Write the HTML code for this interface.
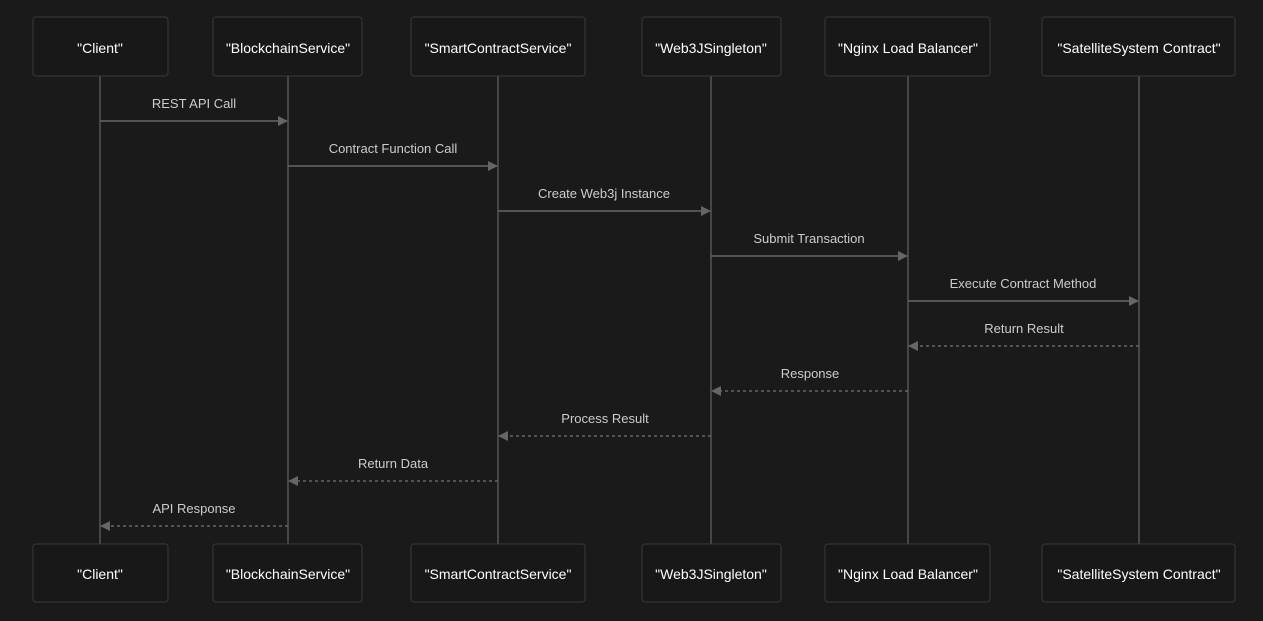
<!DOCTYPE html>
<html><head><meta charset="utf-8"><style>
html,body{margin:0;padding:0;background:#1a1a1a;}
svg{display:block;}
text{font-family:"Liberation Sans",sans-serif;}
.n{fill:#fff;font-size:14px;text-anchor:middle;dominant-baseline:central;}
.l{fill:#ccc;font-size:13px;text-anchor:middle;}
</style></head><body>
<svg width="1263" height="621" viewBox="0 0 1263 621" xmlns="http://www.w3.org/2000/svg">
<rect width="1263" height="621" fill="#1a1a1a"/>
<defs>
<marker id="a" markerWidth="10" markerHeight="10" refX="9" refY="5" orient="auto" markerUnits="userSpaceOnUse">
<path d="M0,0 L10,5 L0,10 z" fill="#666"/></marker>
</defs>
<g stroke="#555" stroke-width="1.5">
<line x1="100" y1="76" x2="100" y2="544"/>
<line x1="288" y1="76" x2="288" y2="544"/>
<line x1="498" y1="76" x2="498" y2="544"/>
<line x1="711" y1="76" x2="711" y2="544"/>
<line x1="908" y1="76" x2="908" y2="544"/>
<line x1="1139" y1="76" x2="1139" y2="544"/>
</g>
<g fill="#181818" stroke="#3a3a3a" stroke-width="1">
<rect x="33" y="17" width="135" height="59" rx="3"/>
<rect x="213" y="17" width="149" height="59" rx="3"/>
<rect x="411" y="17" width="174" height="59" rx="3"/>
<rect x="642" y="17" width="139" height="59" rx="3"/>
<rect x="825" y="17" width="165" height="59" rx="3"/>
<rect x="1042" y="17" width="193" height="59" rx="3"/>
<rect x="33" y="544" width="135" height="58" rx="3"/>
<rect x="213" y="544" width="149" height="58" rx="3"/>
<rect x="411" y="544" width="174" height="58" rx="3"/>
<rect x="642" y="544" width="139" height="58" rx="3"/>
<rect x="825" y="544" width="165" height="58" rx="3"/>
<rect x="1042" y="544" width="193" height="58" rx="3"/>
</g>
<g class="n">
<text x="100" y="48">"Client"</text>
<text x="288" y="48">"BlockchainService"</text>
<text x="498" y="48">"SmartContractService"</text>
<text x="711" y="48">"Web3JSingleton"</text>
<text x="908" y="48">"Nginx Load Balancer"</text>
<text x="1139" y="48">"SatelliteSystem Contract"</text>
<text x="100" y="574">"Client"</text>
<text x="288" y="574">"BlockchainService"</text>
<text x="498" y="574">"SmartContractService"</text>
<text x="711" y="574">"Web3JSingleton"</text>
<text x="908" y="574">"Nginx Load Balancer"</text>
<text x="1139" y="574">"SatelliteSystem Contract"</text>
</g>
<g stroke="#666" stroke-width="1.5" fill="none">
<line x1="100" y1="121" x2="287" y2="121" marker-end="url(#a)"/>
<line x1="288" y1="166" x2="497" y2="166" marker-end="url(#a)"/>
<line x1="498" y1="211" x2="710" y2="211" marker-end="url(#a)"/>
<line x1="711" y1="256" x2="907" y2="256" marker-end="url(#a)"/>
<line x1="908" y1="301" x2="1138" y2="301" marker-end="url(#a)"/>
<g stroke-dasharray="3,3">
<line x1="1139" y1="346" x2="909" y2="346" marker-end="url(#a)"/>
<line x1="908" y1="391" x2="712" y2="391" marker-end="url(#a)"/>
<line x1="711" y1="436" x2="499" y2="436" marker-end="url(#a)"/>
<line x1="498" y1="481" x2="289" y2="481" marker-end="url(#a)"/>
<line x1="288" y1="526" x2="101" y2="526" marker-end="url(#a)"/>
</g>
</g>
<g class="l">
<text x="194" y="108">REST API Call</text>
<text x="393" y="153">Contract Function Call</text>
<text x="604" y="198">Create Web3j Instance</text>
<text x="809" y="243">Submit Transaction</text>
<text x="1023" y="288">Execute Contract Method</text>
<text x="1024" y="333">Return Result</text>
<text x="810" y="378">Response</text>
<text x="605" y="423">Process Result</text>
<text x="393" y="468">Return Data</text>
<text x="194" y="513">API Response</text>
</g>
</svg>
</body></html>
